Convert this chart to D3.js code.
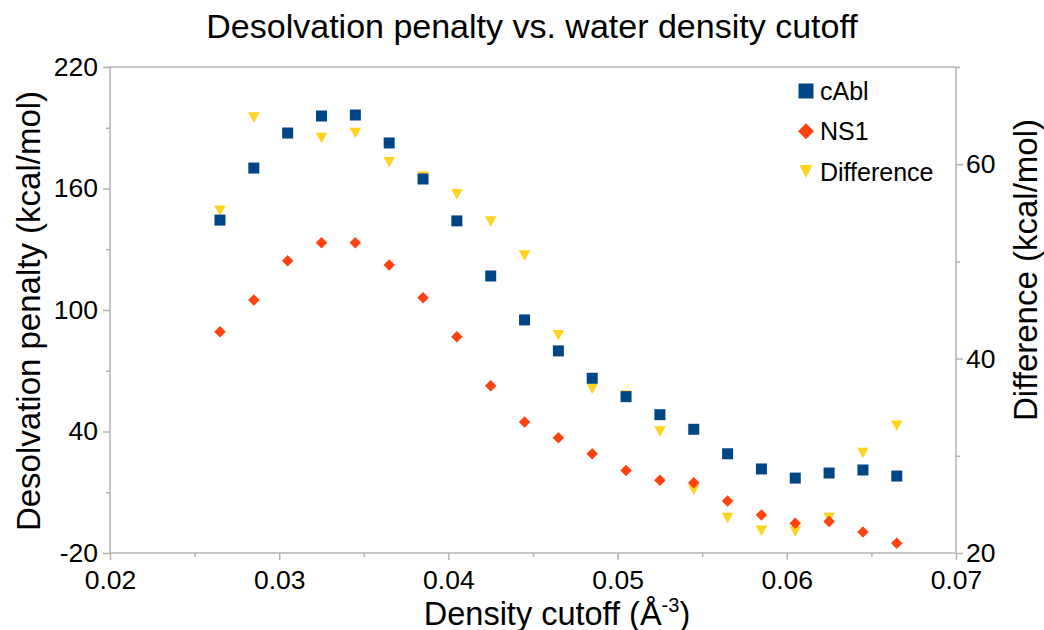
<!DOCTYPE html>
<html>
<head>
<meta charset="utf-8">
<script src="https://cdn.jsdelivr.net/npm/d3@7"></script>
<style>
  html, body { margin: 0; padding: 0; background: #fff; }
  svg { display: block; font-family: "Liberation Sans", Arial, sans-serif; }
</style>
</head>
<body>
<svg id="chart" width="1044" height="630"></svg>
<script>
// Density cutoffs (Å^-3)
const cutoffs = [0.0265, 0.0285, 0.0305, 0.0325, 0.0345, 0.0365, 0.0385, 0.0405, 0.0425, 0.0445,
                 0.0465, 0.0485, 0.0505, 0.0525, 0.0545, 0.0565, 0.0585, 0.0605, 0.0625, 0.0645, 0.0665];
// Desolvation penalties (kcal/mol), left axis
const cAbl = [144.4, 170.1, 187.4, 195.8, 196.3, 182.5, 164.7, 144.0, 116.8, 95.1,
              79.8, 66.3, 57.2, 48.3, 41.1, 29.0, 21.5, 17.0, 19.5, 21.0, 18.0];
const ns1  = [89.3, 104.9, 124.3, 133.2, 133.2, 122.2, 106.1, 86.8, 62.6, 44.7,
              36.9, 29.0, 20.8, 15.9, 14.7, 5.7, -1.2, -5.3, -4.5, -9.6, -15.2];
// Difference (kcal/mol), right axis
const difference = [55.2, 64.8, 63.0, 62.7, 63.2, 60.2, 58.7, 56.9, 54.1, 50.6,
                    42.4, 36.9, 36.2, 32.5, 26.5, 23.6, 22.3, 22.2, 23.6, 30.3, 33.1];

const xTicks = [0.02, 0.03, 0.04, 0.05, 0.06, 0.07];
const xMinor = [0.025, 0.035, 0.045, 0.055, 0.065];
const yLeftTicks = [-20, 40, 100, 160, 220];
const yLeftMinor = [10, 70, 130, 190];
const yRightTicks = [20, 40, 60];
const yRightMinor = [30, 50, 70];

const colors = { cAbl: "#004586", ns1: "#ff420e", diff: "#ffd320" };
const axisColor = "#b3b3b3";

const svg = d3.select("#chart");
const L = 110, R = 956, T = 67, B = 553;

const x = d3.scaleLinear().domain([0.02, 0.07]).range([L, R]);
const yL = d3.scaleLinear().domain([-20, 220]).range([B, T]);
const yR = d3.scaleLinear().domain([20, 70]).range([B, T]);

// frame around the plot area
svg.append("rect").attr("x", L).attr("y", T).attr("width", R - L).attr("height", B - T)
  .attr("fill", "none").attr("stroke", axisColor).attr("stroke-width", 1.5);

function styleAxis(g) {
  g.select(".domain").remove();
  g.selectAll(".tick line").attr("stroke", axisColor).attr("stroke-width", 1.5);
  g.selectAll(".tick text").attr("fill", "#000").attr("font-size", 26.5)
    .attr("font-family", "Liberation Sans, Arial, sans-serif");
}
const plain = d => String(d); // hyphen-minus for negatives

// bottom axis
svg.append("g").attr("transform", `translate(0,${B})`)
  .call(d3.axisBottom(x).tickValues(xTicks).tickFormat(d3.format(".2f")).tickSize(7).tickPadding(10))
  .call(styleAxis);
svg.append("g").attr("transform", `translate(0,${B})`)
  .call(d3.axisBottom(x).tickValues(xMinor).tickFormat("").tickSize(4))
  .call(styleAxis);

// left axis
svg.append("g").attr("transform", `translate(${L},0)`)
  .call(d3.axisLeft(yL).tickValues(yLeftTicks).tickFormat(plain).tickSize(7).tickPadding(5))
  .call(styleAxis);
svg.append("g").attr("transform", `translate(${L},0)`)
  .call(d3.axisLeft(yL).tickValues(yLeftMinor).tickFormat("").tickSize(4))
  .call(styleAxis);

// right axis
svg.append("g").attr("transform", `translate(${R},0)`)
  .call(d3.axisRight(yR).tickValues(yRightTicks).tickFormat(plain).tickSize(7).tickPadding(3))
  .call(styleAxis);
svg.append("g").attr("transform", `translate(${R},0)`)
  .call(d3.axisRight(yR).tickValues(yRightMinor).tickFormat("").tickSize(4))
  .call(styleAxis);

// marker shapes, centred on their bounding box
const squarePath = s => `M${-s/2},${-s/2}H${s/2}V${s/2}H${-s/2}Z`;
const diamondPath = s => `M0,${-s/2}L${s/2},0L0,${s/2}L${-s/2},0Z`;
const trianglePath = (w, h) => `M${-w/2},${-h/2}L${w/2},${-h/2}L0,${h/2}Z`;

const plot = svg.append("g");
// Difference (right axis), drawn underneath
plot.selectAll("path.diff").data(cutoffs.map((c, i) => [c, difference[i]])).join("path")
  .attr("class", "diff")
  .attr("d", trianglePath(11.5, 10.5))
  .attr("transform", d => `translate(${x(d[0])},${yR(d[1])})`)
  .attr("fill", colors.diff);
plot.selectAll("path.cabl").data(cutoffs.map((c, i) => [c, cAbl[i]])).join("path")
  .attr("class", "cabl")
  .attr("d", squarePath(11))
  .attr("transform", d => `translate(${x(d[0])},${yL(d[1])})`)
  .attr("fill", colors.cAbl);
plot.selectAll("path.ns1").data(cutoffs.map((c, i) => [c, ns1[i]])).join("path")
  .attr("class", "ns1")
  .attr("d", diamondPath(11.5))
  .attr("transform", d => `translate(${x(d[0])},${yL(d[1])})`)
  .attr("fill", colors.ns1);

// title
svg.append("text").attr("x", 532).attr("y", 38).attr("text-anchor", "middle")
  .attr("font-size", 34).text("Desolvation penalty vs. water density cutoff");

// axis titles
const xt = svg.append("text").attr("x", 557).attr("y", 624.5).attr("text-anchor", "middle")
  .attr("font-size", 32.5);
xt.append("tspan").text("Density cutoff (Å");
xt.append("tspan").attr("font-size", 20).attr("dy", -13).text("-3");
xt.append("tspan").attr("dy", 13).text(")");

svg.append("text").attr("transform", "translate(40,311) rotate(-90)").attr("text-anchor", "middle")
  .attr("font-size", 33).text("Desolvation penalty (kcal/mol)");
svg.append("text").attr("transform", "translate(1037,270) rotate(-90)").attr("text-anchor", "middle")
  .attr("font-size", 33).text("Difference (kcal/mol)");

// legend
const legendItems = [
  { name: "cAbl", d: squarePath(15), color: colors.cAbl },
  { name: "NS1", d: diamondPath(16), color: colors.ns1 },
  { name: "Difference", d: trianglePath(13, 13), color: colors.diff }
];
const lg = svg.append("g");
legendItems.forEach((it, i) => {
  const cy = 91 + i * 40.3;
  lg.append("path").attr("d", it.d)
    .attr("transform", `translate(806,${cy})`)
    .attr("fill", it.color);
  lg.append("text").attr("x", 820).attr("y", cy + 9).attr("font-size", 25).text(it.name);
});
</script>
</body>
</html>
